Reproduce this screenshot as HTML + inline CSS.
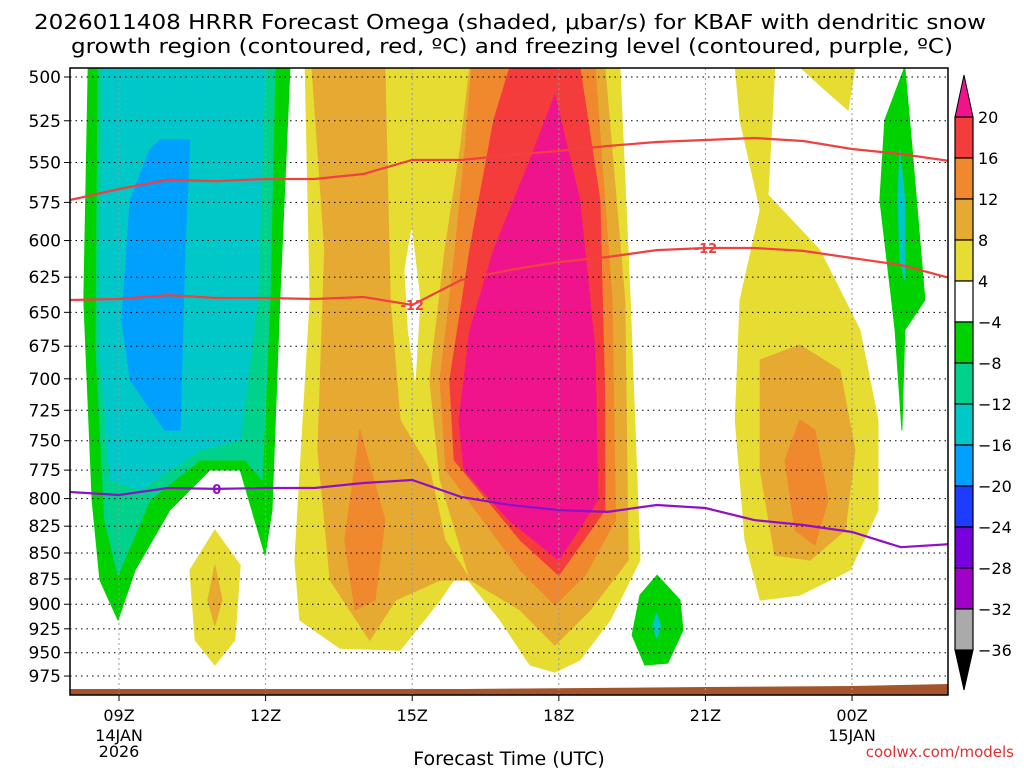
<!DOCTYPE html>
<html><head><meta charset="utf-8"><style>
body{margin:0;background:#fff;}
svg{display:block;font-family:"DejaVu Sans","Liberation Sans",sans-serif;}
</style></head><body>
<svg id="c" width="1024" height="768" viewBox="0 0 1024 768" xmlns="http://www.w3.org/2000/svg">
<defs><clipPath id="pc"><rect x="70" y="68" width="878" height="627"/></clipPath></defs>
<text x="510" y="29" text-anchor="middle" font-size="20" textLength="952" lengthAdjust="spacingAndGlyphs">2026011408 HRRR Forecast Omega (shaded, μbar/s) for KBAF with dendritic snow</text>
<text x="512" y="53" text-anchor="middle" font-size="20" textLength="882" lengthAdjust="spacingAndGlyphs">growth region (contoured, red, ºC) and freezing level (contoured, purple, ºC)</text>
<g id="plot" clip-path="url(#pc)"></g>
<g id="grid"></g>
<g id="lines" clip-path="url(#pc)"></g>
<rect x="70" y="68" width="878" height="627" fill="none" stroke="#000" stroke-width="1.5"/>
<g id="axes"></g>
<g id="cbar"></g>
<text x="509" y="765" text-anchor="middle" font-size="19">Forecast Time (UTC)</text>
<text x="1014" y="757" text-anchor="end" font-size="15" fill="#e03030">coolwx.com/models</text>
</svg>
<script>
const pLevels=[500,525,550,575,600,625,650,675,700,725,750,775,800,825,850,875,900,925,950,975];
const xTickHours=[0,3,6,9,12,15];
const xTickLabels=["09Z","12Z","15Z","18Z","21Z","00Z"];
const cbLevels=[20,16,12,8,4,-4,-8,-12,-16,-20,-24,-28,-32,-36];
const cbColors=["#f53c3c","#f0882d","#e6aa32","#e6dc32","#ffffff","#00d200","#00d28c","#00c8c8","#00a0ff","#1e3cff","#7800dc","#a000c8","#aaaaaa"];
const lineHours=[-1,0,1,2,3,4,5,6,7,8,9,10,11,12,13,14,15,16,17];
const dgzTop=[573.5,566.5,560.8,561.5,560.2,560.2,557.1,548.5,548.5,545.5,543.0,540.0,537.6,536.4,535.2,537.0,541.8,544.8,549.1];
const dgzBottom=[641.1,640.4,637.6,639.7,639.7,640.4,639.0,644.7,627.0,620.0,614.5,611.1,606.4,605.0,605.0,607.0,611.8,616.6,625.6];
const freezing=[794.1,796.8,790.6,791.4,790.6,790.6,786.2,783.6,798.5,805.7,810.3,812.0,805.7,808.4,819.4,823.9,830.4,844.5,841.6];
// shaded regions: [color, name, [[hour, hPa],...]]
const regions=[
["#00d200","neg-4-region-left",[[-0.63,494.4],[-0.72,641.1],[-0.55,801.3],[-0.39,876.1],[-0.02,916.0],[0.33,866.4],[1.04,810.3],[1.86,774.9],[2.48,774.9],[2.84,828.6],[2.99,852.0],[3.13,810.3],[3.29,641.1],[3.5,494.4]]],
["#00d28c","neg-8-region-left",[[-0.43,494.4],[-0.47,677.9],[-0.29,819.4],[-0.02,871.3],[0.63,801.3],[1.66,766.3],[2.58,766.3],[2.93,783.5],[3.09,641.1],[3.19,494.4]]],
["#00c8c8","neg-12-region-left",[[-0.35,494.4],[-0.39,677.9],[-0.18,783.5],[0.43,792.4],[1.66,757.9],[2.48,749.4],[2.84,641.1],[2.99,494.4]]],
["#00a0ff","neg-16-region-left",[[0.84,536.4],[1.45,536.4],[1.35,606.2],[1.25,741.2],[0.94,741.2],[0.23,700.9],[0.06,655.6],[0.23,573.5],[0.63,542.4]]],
["#00d200","neg-4-region-right",[[16.08,494.4],[16.23,542.4],[16.49,641.1],[16.08,662.9],[16.02,741.1],[15.88,662.9],[15.57,573.5],[15.67,524.6]]],
["#00c8c8","neg-12-region-right",[[15.98,542.4],[16.08,573.5],[16.08,627.0],[15.98,613.1],[15.94,573.5]]],
["#00d200","neg-4-region-bottom",[[11.01,871.3],[11.48,895.9],[11.54,926.4],[11.23,961.0],[10.76,963.1],[10.5,931.5],[10.66,890.9]]],
["#00c8c8","neg-12-region-bottom",[[11.0,909.0],[11.08,921.9],[11.0,934.9],[10.92,921.9]]],
["#e6dc32","pos-4-region-center",[[3.81,494.4],[3.91,641.1],[3.6,856.8],[3.7,916.0],[4.52,945.2],[5.75,947.3],[6.57,895.9],[6.98,866.4],[7.8,916.0],[8.41,963.1],[8.92,970.8],[9.43,957.8],[10.05,916.0],[10.66,856.8],[10.46,641.1],[10.25,494.4]]],
["#ffffff","zero-sliver",[[5.99,592.8],[6.16,641.1],[6.06,700.9],[5.92,662.9],[5.85,620.0]]],
["#e6dc32","pos-4-region-small",[[1.96,828.6],[2.48,861.7],[2.37,936.8],[1.96,963.1],[1.56,936.8],[1.45,866.4]]],
["#e6aa32","pos-8-region-small",[[1.96,861.7],[2.11,895.9],[1.96,921.3],[1.82,895.9]]],
["#e6dc32","pos-4-region-right",[[12.61,494.4],[13.42,494.4],[13.28,570.3],[14.34,606.4],[15.16,662.9],[15.53,733.0],[15.53,810.3],[14.96,866.4],[13.93,890.9],[13.12,895.9],[12.81,837.9],[12.61,733.0],[12.71,641.1],[13.12,579.9],[12.71,524.6]]],
["#e6dc32","pos-4-region-top",[[13.93,494.4],[15.06,494.4],[14.92,518.8],[14.45,507.3]]],
["#e6aa32","pos-8-region-right",[[13.12,685.5],[13.93,674.1],[14.75,693.2],[15.06,757.9],[14.86,828.6],[14.14,856.8],[13.42,852.0],[13.12,774.9]]],
["#f0882d","pos-12-region-right",[[13.93,733.0],[14.24,741.1],[14.51,801.3],[14.24,842.6],[13.83,828.6],[13.63,766.3]]],
["#e6aa32","pos-8-region-left-band",[[3.95,494.4],[5.44,494.4],[5.55,641.1],[5.75,733.0],[6.36,774.9],[6.67,837.9],[7.19,876.1],[6.57,876.1],[5.66,895.9],[5.13,936.8],[4.32,876.1],[4.07,757.9],[4.21,606.2]]],
["#e6aa32","pos-8-region-center",[[7.18,494.4],[9.94,494.4],[10.35,641.1],[10.42,856.8],[9.64,905.9],[8.92,942.0],[8.21,905.9],[7.19,876.1],[6.57,783.5],[6.36,700.9],[6.67,606.2],[6.98,542.4]]],
["#f0882d","pos-12-region-left",[[4.93,741.2],[5.44,819.4],[5.24,895.9],[4.83,905.9],[4.62,837.9]]],
["#f0882d","pos-12-region-center",[[7.22,494.4],[9.74,494.4],[10.09,641.1],[10.16,819.4],[9.54,871.3],[8.92,901.0],[8.21,866.4],[6.69,774.9],[6.57,700.9],[6.88,606.2],[7.08,542.4]]],
["#f53c3c","pos-16-region",[[8.0,494.4],[9.43,494.4],[9.84,573.5],[9.94,716.7],[9.94,810.3],[9.0,871.3],[8.21,837.9],[6.86,766.3],[6.77,700.9],[7.18,606.2],[7.67,524.6]]],
["#f0148c","pos-20-region",[[8.92,510.1],[9.43,573.5],[9.74,677.9],[9.8,801.3],[9.0,856.8],[7.98,819.4],[7.06,774.9],[6.96,733.0],[7.18,662.9],[7.67,606.2],[8.41,548.5]]]
];
const NS="http://www.w3.org/2000/svg";
function X(h){return 119+h*48.87;}
function Y(p){return 77+897*Math.log(p/500);}
function mk(tag,attrs,parent){const e=document.createElementNS(NS,tag);for(const k in attrs)e.setAttribute(k,attrs[k]);parent.appendChild(e);return e;}
const plot=document.getElementById('plot'),grid=document.getElementById('grid'),lines=document.getElementById('lines'),axes=document.getElementById('axes'),cbar=document.getElementById('cbar');
regions.forEach(r=>{
 const pts=r[2].map(q=>X(q[0]).toFixed(1)+','+Y(q[1]).toFixed(1)).join(' ');
 const e=mk('polygon',{points:pts,fill:r[0],stroke:r[0],'stroke-width':1,'stroke-linejoin':'round'},plot);
 
 
});
const t=mk('polygon',{points:`70,689 ${X(7)},689 ${X(12)},687 ${X(15)},686 948,684 948,695 70,695`,fill:'#a5552d'},plot);


pLevels.forEach(p=>{
 const g=mk('line',{x1:70,x2:948,y1:Y(p),y2:Y(p),stroke:'#000','stroke-width':1,'stroke-dasharray':'1.5,4'},grid);
 
 
 const tk=mk('line',{x1:64,x2:70,y1:Y(p),y2:Y(p),stroke:'#000'},axes);
 
 
 const tx=mk('text',{x:61,y:Y(p)+6,'text-anchor':'end','font-size':17},axes);
 tx.textContent=p;
 
 
});
xTickHours.forEach((h,i)=>{
 const g=mk('line',{x1:X(h),x2:X(h),y1:68,y2:695,stroke:'#999','stroke-width':1,'stroke-dasharray':'2,3'},grid);
 
 
 const tk=mk('line',{x1:X(h),x2:X(h),y1:695,y2:701,stroke:'#000'},axes);
 
 
 const tx=mk('text',{x:X(h),y:721,'text-anchor':'middle','font-size':16},axes);
 tx.textContent=xTickLabels[i];
 
 
});
[["14JAN",0,741],["2026",0,757],["15JAN",15,741]].forEach(d=>{
 const tx=mk('text',{x:X(d[1]),y:d[2],'text-anchor':'middle','font-size':16},axes);
 tx.textContent=d[0];
 
 
});
function drawLine(vals,color,name){
 const d=vals.map((v,i)=>(i?'L':'M')+X(lineHours[i]).toFixed(1)+','+Y(v).toFixed(1)).join(' ');
 const e=mk('path',{d:d,fill:'none',stroke:color,'stroke-width':2.2},lines);
 
 
}
drawLine(dgzTop,'#f04040','dgz-upper-contour');
drawLine(dgzBottom,'#f04040','dgz-minus12-contour');
drawLine(freezing,'#9010c8','freezing-level-contour');
function lbl(txt,i,vals,color,name){
 const x=X(lineHours[i]),y=Y(vals[i]);
 const tx=mk('text',{x:x,y:y+5,'text-anchor':'middle','font-size':13,'font-weight':'bold',fill:color},lines);
 tx.textContent=txt;
 
 
}
lbl('-12',7,dgzBottom,'#f04040','contour-label-minus12-a');
lbl('-12',13,dgzBottom,'#f04040','contour-label-minus12-b');
lbl('0',3,freezing,'#9010c8','contour-label-zero');
const cx=955,cw=18,cy0=117,ch=41;
const tu=mk('polygon',{points:`${cx},${cy0} ${cx+cw},${cy0} ${cx+cw/2},75`,fill:'#f0148c',stroke:'#000'},cbar);


cbColors.forEach((c,i)=>{
 const r=mk('rect',{x:cx,y:cy0+i*ch,width:cw,height:ch,fill:c,stroke:'#000','stroke-width':1.2},cbar);
 
 
});
const yb=cy0+cbColors.length*ch;
const tb=mk('polygon',{points:`${cx},${yb} ${cx+cw},${yb} ${cx+cw/2},${yb+40}`,fill:'#000',stroke:'#000'},cbar);


cbLevels.forEach((v,i)=>{
 const tx=mk('text',{x:978,y:cy0+i*ch+6,'font-size':16},cbar);
 tx.textContent=v<0?'\u2212'+(-v):String(v);
 
 
});
</script>
</body></html>
